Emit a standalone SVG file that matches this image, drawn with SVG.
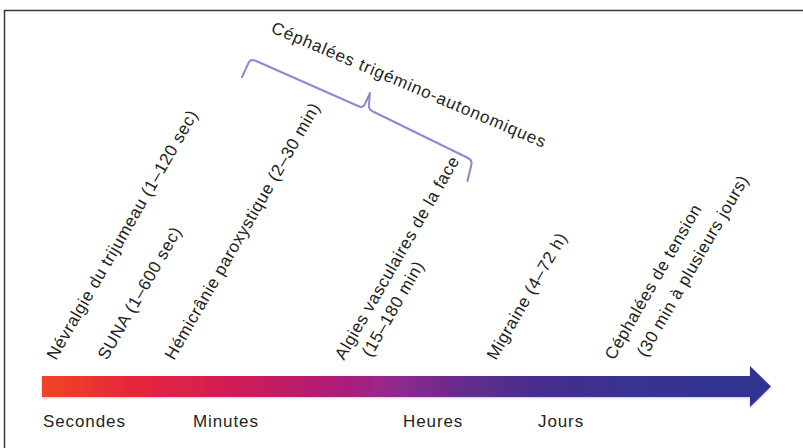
<svg xmlns="http://www.w3.org/2000/svg" width="803" height="448" viewBox="0 0 803 448">
<defs>
<linearGradient id="tl" gradientUnits="userSpaceOnUse" x1="42" y1="0" x2="771" y2="0">
<stop offset="0" stop-color="#ef4624"/>
<stop offset="0.12" stop-color="#e8263a"/>
<stop offset="0.28" stop-color="#cc1c5a"/>
<stop offset="0.4" stop-color="#b01a76"/>
<stop offset="0.47" stop-color="#9a288c"/>
<stop offset="0.56" stop-color="#6c2c8c"/>
<stop offset="0.66" stop-color="#4a2e8e"/>
<stop offset="0.8" stop-color="#383090"/>
<stop offset="1" stop-color="#2e3490"/>
</linearGradient>
<filter id="sh" x="-5%" y="-50%" width="110%" height="200%">
<feGaussianBlur in="SourceAlpha" stdDeviation="1.2"/>
<feOffset dx="0" dy="1" result="b"/>
<feFlood flood-color="#8890b0" flood-opacity="0.5"/>
<feComposite in2="b" operator="in"/>
<feMerge><feMergeNode/><feMergeNode in="SourceGraphic"/></feMerge>
</filter>
</defs>
<style>
text{font-family:"Liberation Sans",Arial,Helvetica,sans-serif;font-size:17px;fill:#231f20;letter-spacing:0.9px}
.rot{letter-spacing:0.6px}
.brace{fill:none;stroke:#9385d0;stroke-width:2;stroke-linecap:round;stroke-linejoin:round}
</style>
<rect x="4.5" y="10.5" width="820" height="460" fill="#ffffff" stroke="#3a3a3a" stroke-width="1.5"/>
<g id="timeline" filter="url(#sh)">
<path d="M42,376 L750,376 L750,366 L771,386.5 L750,407 L750,397 L42,397 Z" fill="url(#tl)"/>
</g>
<g id="scale">
<text x="43" y="427">Secondes</text>
<text x="193" y="427">Minutes</text>
<text x="403" y="427">Heures</text>
<text x="538" y="427">Jours</text>
</g>
<g id="connectors">
<path class="brace" d="M242,77 L249,62 Q251,59 255,60.5 L358,106 Q363,108.5 365,104 L370,93 L369,104 Q368,110 374,112 L468,158 Q472,160 471.5,164 L467.5,181"/>
</g>
<g id="group-label">
<text transform="translate(270,32) rotate(23)">Céphalées trigémino-autonomiques</text>
</g>
<g id="nevralgie">
<text class="rot" transform="translate(56,361) rotate(-60)">Névralgie du trijumeau (1–120 sec)</text>
</g>
<g id="suna">
<text class="rot" transform="translate(107,361) rotate(-60)">SUNA (1–600 sec)</text>
</g>
<g id="hemicranie">
<text class="rot" transform="translate(174,361) rotate(-60)">Hémicrânie paroxystique (2–30 min)</text>
</g>
<g id="algies">
<text class="rot" transform="translate(344,361) rotate(-60)">Algies vasculaires de la face</text>
<text class="rot" transform="translate(371,358) rotate(-60)">(15–180 min)</text>
</g>
<g id="migraine">
<text class="rot" transform="translate(496,361) rotate(-60)">Migraine (4–72 h)</text>
</g>
<g id="tension">
<text class="rot" transform="translate(614,361) rotate(-60)">Céphalées de tension</text>
<text class="rot" transform="translate(646,358) rotate(-60)">(30 min à plusieurs jours)</text>
</g>
</svg>
